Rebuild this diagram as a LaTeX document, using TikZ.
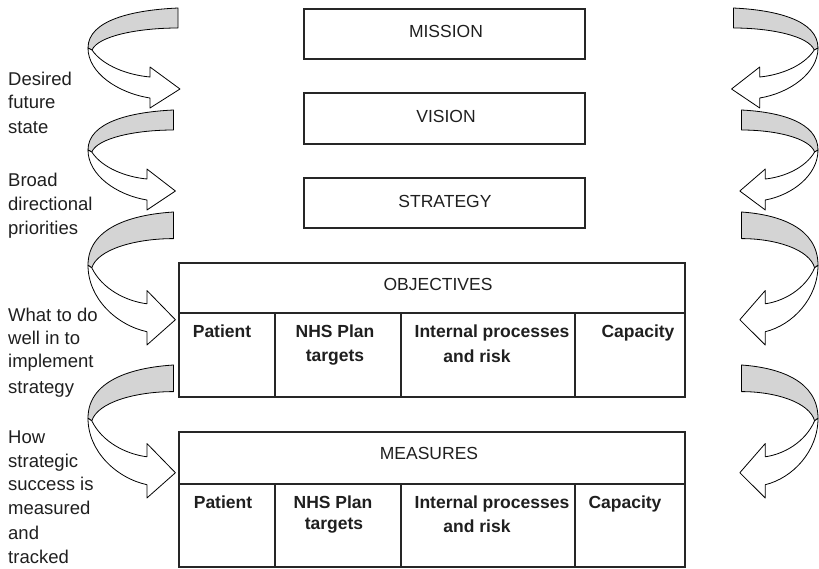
\documentclass[tikz,border=0pt]{standalone}
\usepackage{fontspec}
\setmainfont{Liberation Sans}
\begin{document}
\begin{tikzpicture}[x=1pt,y=-1pt,
  boxline/.style={draw=black!85, line width=1.1pt},
  framebox/.style={boxline, rectangle, inner sep=0pt},
  txt/.style={inner sep=0pt, anchor=base, text=black!88, font=\fontsize{17.5}{21}\selectfont},
  boldtxt/.style={txt, font=\fontsize{17.5}{21}\selectfont\bfseries},
  lefttxt/.style={txt, anchor=base west, font=\fontsize{18.5}{22}\selectfont},
  ribbon/.style={draw=black, line width=0.8pt, line join=round},
  ribbonarrow/.pic={
    \filldraw[ribbon, fill=black!17] (90,0) .. controls (45,2) and (0,12) .. (0,40) -- (4,42)
      .. controls (10,28) and (50,20) .. (90,20) -- cycle;
    \filldraw[ribbon, fill=white] (0,40) .. controls (0,65) and (30,85) .. (62,90) -- (62,100)
      -- (92,81) -- (62,59) -- (62,69) .. controls (40,67) and (15,58) .. (4,42) -- cycle;
  }]
\useasboundingbox (0,0) rectangle (819,568);

% curved arrows, left
\pic at (88,8) {ribbonarrow};
\pic[xscale=0.95] at (88,110) {ribbonarrow};
\pic[xscale=0.95, yscale=1.33] at (88,212) {ribbonarrow};
\pic[xscale=0.95, yscale=1.33] at (88,365) {ribbonarrow};
% curved arrows, right
\pic[xscale=-0.94] at (818,8) {ribbonarrow};
\pic[xscale=-0.85] at (818,110) {ribbonarrow};
\pic[xscale=-0.85, yscale=1.33] at (818,212) {ribbonarrow};
\pic[xscale=-0.85, yscale=1.33] at (818,365) {ribbonarrow};

% top boxes
\node[framebox, minimum width=281pt, minimum height=50pt] (mission) at (444.5,34) {};
\node[framebox, minimum width=281pt, minimum height=51pt] (vision) at (444.5,118.5) {};
\node[framebox, minimum width=281pt, minimum height=50pt] (strategy) at (444.5,203) {};
\node[txt] (missiont) at (446,37) {MISSION};
\node[txt] (visiont) at (446,122) {VISION};
\node[txt] (strategyt) at (445,207) {STRATEGY};

% objectives table
\node[framebox, minimum width=506pt, minimum height=134pt] (objectives) at (432,330) {};
\draw[boxline] (179,313) -- (685,313);
\draw[boxline] (275,313) -- (275,397);
\draw[boxline] (401,313) -- (401,397);
\draw[boxline] (575,313) -- (575,397);
\node[txt] (objt) at (438,290) {OBJECTIVES};
\node[boldtxt] (op) at (222,337) {Patient};
\node[boldtxt] (on1) at (335,337) {NHS Plan};
\node[boldtxt] (on2) at (335,361) {targets};
\node[boldtxt] (oi1) at (492,337) {Internal processes};
\node[boldtxt] (oi2) at (477,362) {and risk};
\node[boldtxt] (oc) at (638,337) {Capacity};

% measures table
\node[framebox, minimum width=506pt, minimum height=135pt] (measures) at (432,499.5) {};
\draw[boxline] (179,484) -- (685,484);
\draw[boxline] (275,484) -- (275,567);
\draw[boxline] (401,484) -- (401,567);
\draw[boxline] (575,484) -- (575,567);
\node[txt] (meat) at (429,459) {MEASURES};
\node[boldtxt] (mp) at (223,508) {Patient};
\node[boldtxt] (mn1) at (333,508) {NHS Plan};
\node[boldtxt] (mn2) at (334,529) {targets};
\node[boldtxt] (mi1) at (492,508) {Internal processes};
\node[boldtxt] (mi2) at (477,532) {and risk};
\node[boldtxt] (mc) at (625,508) {Capacity};

% left texts
\foreach \t/\y [count=\i] in {Desired/85, future/108, state/133}
  \node[lefttxt] (desired-\i) at (8,\y) {\t};
\foreach \t/\y [count=\i] in {Broad/186, directional/210, priorities/234}
  \node[lefttxt] (broad-\i) at (8,\y) {\t};
\foreach \t/\y [count=\i] in {What to do/321, well in to/344, implement/367, strategy/393}
  \node[lefttxt] (what-\i) at (8,\y) {\t};
\foreach \t/\y [count=\i] in {How/443, strategic/467, success is/490, measured/514, and/539, tracked/563}
  \node[lefttxt] (how-\i) at (8,\y) {\t};
\end{tikzpicture}
\end{document}
